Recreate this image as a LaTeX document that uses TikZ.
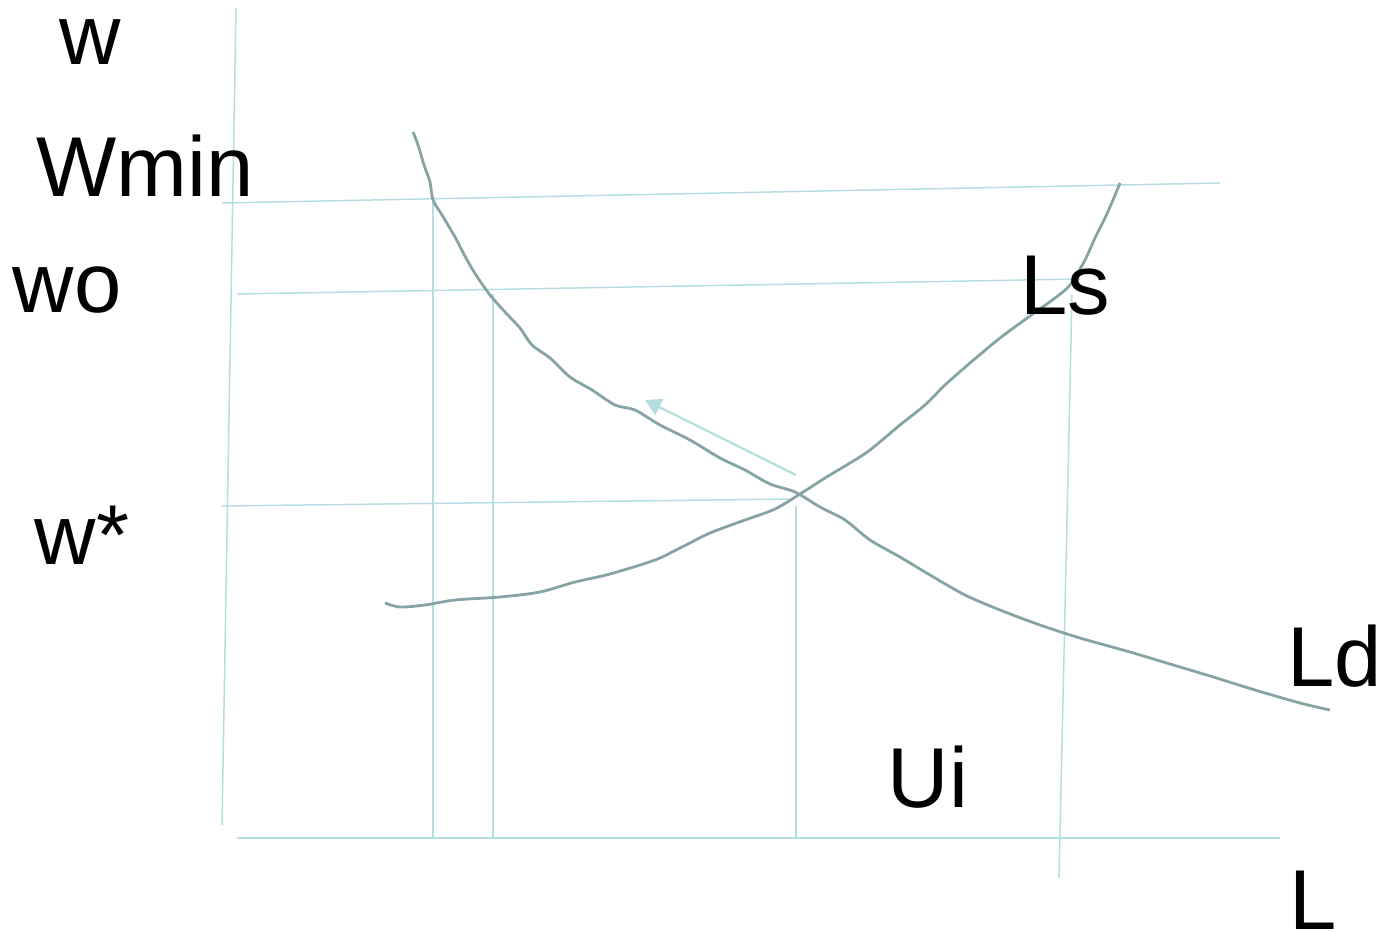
\documentclass[tikz,border=0pt]{standalone}
\usepackage{fontspec}
\setmainfont{Liberation Sans}
\usetikzlibrary{arrows.meta}
\definecolor{guide}{HTML}{B6DEE2}
\definecolor{curve}{HTML}{86A3A6}
\tikzset{
  guideline/.style={draw=guide, line width=1.5pt},
  curveline/.style={draw=curve, line width=2.8pt, line join=round},
  lbl/.style={font=\fontsize{85}{85}\selectfont, text=black, inner sep=0pt}
}
\begin{document}
\begin{tikzpicture}[x=1pt,y=-1pt]
\useasboundingbox (0,0) rectangle (1385,932);
% axes
\coordinate (yTop) at (236,8);
\coordinate (yBot) at (222,825);
\coordinate (xL) at (237,838);
\coordinate (xR) at (1280,838);
\draw[guideline] (yTop) -- (yBot);
\draw[guideline] (xL) -- (xR);
% horizontal guides
\coordinate (wminL) at (222,203);
\coordinate (wminR) at (1220,183);
\coordinate (woL) at (237,294);
\coordinate (woR) at (1080,279);
\coordinate (wsL) at (222,506);
\coordinate (wsR) at (793,499);
\draw[guideline] (wminL) -- (wminR);
\draw[guideline] (woL) -- (woR);
\draw[guideline] (wsL) -- (wsR);
% vertical guides
\coordinate (v1t) at (433,203); \coordinate (v1b) at (433,838);
\coordinate (v2t) at (493,294); \coordinate (v2b) at (493,838);
\coordinate (v3t) at (796,506); \coordinate (v3b) at (796,838);
\coordinate (v4t) at (1072,295); \coordinate (v4b) at (1059,878);
\draw[guideline] (v1t) -- (v1b);
\draw[guideline] (v2t) -- (v2b);
\draw[guideline] (v3t) -- (v3b);
\draw[guideline] (v4t) -- (v4b);
% arrow
\coordinate (aS) at (796,475);
\coordinate (aE) at (645,400);
\draw[guideline, line width=2.2pt, -{Triangle[length=16pt,width=18pt]}] (aS) -- (aE);
% Ld curve
\draw[curveline] plot[smooth, tension=0.5] coordinates {
 (413,132) (418,145) (424,165) (430,182) (433,200) (442,215) (455,237) (466,258)
 (476,275) (490,295) (505,312) (520,328) (532,345) (550,358) (570,377)
 (592,390) (615,405) (635,410) (660,425) (690,440) (720,458) (745,470)
 (770,484) (795,492) (820,507) (845,520) (870,540) (900,557) (930,575)
 (965,595) (1000,610) (1040,625) (1080,638) (1130,652) (1170,664) (1210,676)
 (1255,690) (1300,703) (1330,710)};
% Ls curve
\draw[curveline] plot[smooth, tension=0.5] coordinates {
 (385,603) (400,607) (425,605) (455,600) (500,597) (540,592) (575,582)
 (610,574) (655,560) (680,548) (710,533) (745,520) (775,509) (800,494)
 (825,478) (850,463) (870,450) (900,425) (925,405) (945,385) (970,363)
 (1000,338) (1030,316) (1055,298) (1070,285) (1085,260) (1095,238)
 (1105,218) (1113,200) (1120,183)};
% labels
\node[lbl] (w) at (90,42) {w};
\node[lbl] (wmin) at (145,166) {Wmin};
\node[lbl] (wo) at (67,290) {wo};
\node[lbl] (wstar) at (82,535) {w*};
\node[lbl] (ls) at (1065,286) {Ls};
\node[lbl] (ld) at (1335,656) {Ld};
\node[lbl] (ui) at (928,777) {Ui};
\node[lbl] (l) at (1313,900) {L};
\end{tikzpicture}
\end{document}
